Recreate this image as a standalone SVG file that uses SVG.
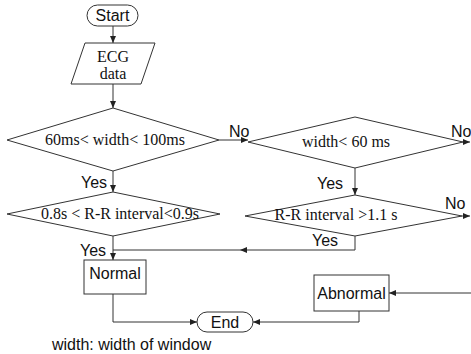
<svg xmlns="http://www.w3.org/2000/svg" width="471" height="354" viewBox="0 0 471 354">
<style>
.shape{fill:#fff;stroke:#333;stroke-width:1}
.conn{fill:none;stroke:#333;stroke-width:1}
.sans{font-family:"Liberation Sans",Arial,sans-serif;font-size:16px;fill:#111}
.serif{font-family:"Liberation Serif","Times New Roman",serif;font-size:16px;fill:#111}
</style>
<defs>
<marker id="ah" markerWidth="8" markerHeight="8" refX="7" refY="3" orient="auto" markerUnits="userSpaceOnUse">
<path d="M0,0 L7,3 L0,6 Z" fill="#222"/>
</marker>
</defs>
<rect width="471" height="354" fill="#fff"/>
<g id="connectors">
<path class="conn" d="M113,26 V43" marker-end="url(#ah)"/>
<path class="conn" d="M113,84 V108" marker-end="url(#ah)"/>
<path class="conn" d="M219,140 H248" marker-end="url(#ah)"/>
<path class="conn" d="M113,171 V192" marker-end="url(#ah)"/>
<path class="conn" d="M355,168 V195" marker-end="url(#ah)"/>
<path class="conn" d="M463,142 H470" marker-end="url(#ah)"/>
<path class="conn" d="M462,216 H470" marker-end="url(#ah)"/>
<path class="conn" d="M472,142 V293 H389" marker-end="url(#ah)"/>
<path class="conn" d="M355,236 V250 H113"/>
<path d="M240,250 L247,247 L247,253 Z" fill="#222"/>
<path class="conn" d="M113,236 V260" marker-end="url(#ah)"/>
<path class="conn" d="M113,294 V322 H197" marker-end="url(#ah)"/>
<path class="conn" d="M359,311 V322 H253" marker-end="url(#ah)"/>
<text class="sans" x="229" y="137">No</text>
<text class="sans" x="451" y="137">No</text>
<text class="sans" x="445" y="209">No</text>
<text class="sans" x="81" y="188">Yes</text>
<text class="sans" x="317" y="189">Yes</text>
<text class="sans" x="312" y="246">Yes</text>
<text class="sans" x="80" y="256">Yes</text>
</g>
<g id="start">
<rect class="shape" x="87" y="5" width="51" height="21" rx="10.5"/>
<text class="sans" x="112.5" y="21" text-anchor="middle">Start</text>
</g>
<g id="ecg">
<polygon class="shape" points="85,43 155,43 141,84 71,84"/>
<text class="serif" x="113" y="62" text-anchor="middle">ECG</text>
<text class="serif" x="113" y="79" text-anchor="middle">data</text>
</g>
<g id="d1">
<polygon class="shape" points="113,108 219,140 113,171 7,140"/>
<text class="serif" x="115" y="145" text-anchor="middle">60ms&lt; width&lt; 100ms</text>
</g>
<g id="d2">
<polygon class="shape" points="355,117 463,142 355,168 248,142"/>
<text class="serif" x="346" y="147" text-anchor="middle">width&lt;  60 ms</text>
</g>
<g id="d3">
<polygon class="shape" points="113,192 220,214 113,236 7,214"/>
<text class="serif" x="120" y="219" text-anchor="middle">0.8s &lt; R-R interval&lt;0.9s</text>
</g>
<g id="d4">
<polygon class="shape" points="355,195 462,216 355,236 245,216"/>
<text class="serif" x="336" y="220" text-anchor="middle">R-R interval &gt;1.1 s</text>
</g>
<g id="normal">
<rect class="shape" x="84" y="260" width="62" height="34"/>
<text class="sans" x="115" y="279" text-anchor="middle">Normal</text>
</g>
<g id="abnormal">
<rect class="shape" x="314" y="275" width="75" height="36"/>
<text class="sans" x="351.5" y="299" text-anchor="middle">Abnormal</text>
</g>
<g id="end">
<rect class="shape" x="197" y="312" width="56" height="20" rx="10"/>
<text class="sans" x="225" y="328" text-anchor="middle">End</text>
</g>
<text class="sans" x="52" y="350">width: width of window</text>
</svg>
